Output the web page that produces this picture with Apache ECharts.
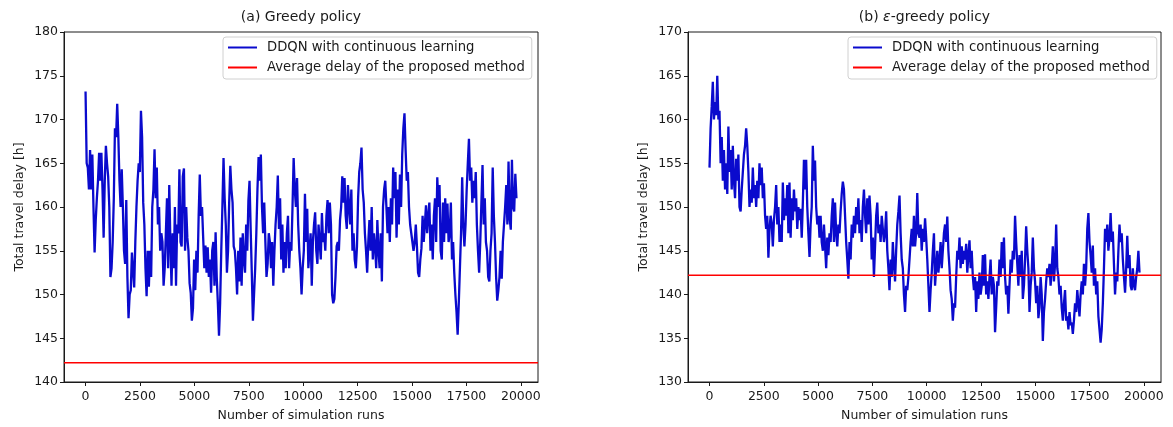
<!DOCTYPE html>
<html><head><meta charset="utf-8">
<script src="https://cdn.jsdelivr.net/npm/echarts@6/dist/echarts.min.js"></script>
<style>html,body{margin:0;padding:0;background:#fff}#c{width:1173px;height:427px}</style>
</head><body><div id="c"></div>
<script>
// ---------- data ----------
const xTickValues = [0, 2500, 5000, 7500, 10000, 12500, 15000, 17500, 20000];
const xRange = [-990, 20790];
const greedyYRange = [140, 180];
const epsYRange = [130, 170];
const yInterval = 5;
const lastRun = 19800;
const avgDelay = 142.2;
const seriesNames = ['DDQN with continuous learning', 'Average delay of the proposed method'];
const panelTitles = ['(a) Greedy policy', '(b) {e|ε}-greedy policy'];
const xAxisName = 'Number of simulation runs';
const yAxisName = 'Total travel delay [h]';

// (a) greedy policy: total travel delay sampled along the runs
const greedyDelay = [
173.2,165,164.5,162,166.5,162,166,160,154.8,158.5,161,163,166.2,163,166.2,162,156.5,163,167,165,
163.5,160,152,153,156,161,169,168,171.8,168,163,160,164.3,160,155,153.5,160.8,152,147.3,150,
150.5,154.8,155,150.8,156,160,163,165,164,171,168,160.5,158,153,149.8,155,150.9,155,152,160,
162,166.6,161,164.5,158,160,155,157,156,151,
153,157,161,153,162.5,156,151,157,153,160,151,158,157,164.3,156,155.5,163.5,164.4,155,160,
156.5,155,151.3,150.2,147,148.4,154,150.5,155,152.5,159,163.7,159,160,156.5,153,155.6,152.5,155.4,152,
154,150.2,155,156,151,157.1,152,149,145.3,149,155,160,165.6,161,158,152.5,155,160.5,164.7,162,
160.5,155.5,155,153,150,155,151.5,156.5,151,157,154,152.5,158,155,160.7,163,157.5,152.5,147,150,
153,157,162,165.7,163,166,160,157,160.5,156,152,153.5,157,156,153,156,151,155,158,160,
163.6,157.5,161,154,158,152.5,156,153,157,159,153,156,155,160,165.6,162,160,163.3,158,155,
153,150,153,155,161.5,156,159.8,153,155,157,151,156,158,159.4,155,153.5,158,156,154,159.3,
156,157,155,159,160.8,157,160.5,158,150,149,149.5,152,155.5,156,155,158.5,160,163.5,160.5,163.3,
159,157.5,162.5,160,158,162,155,157,154,153,155.5,161,164,165,166.8,162,160.5,157,155,152.5,
156,158.5,155,160,154,157,155.5,153,158.5,155,153,157,151.5,160,162,163,160,157,160,156,
161,158,164.5,161,164,156.5,162,158,163.7,160,166,169,170.7,166.5,163,164,160,158,157,157,
155,156,158,155.5,152.5,152,154,155.3,159,156,158,160.2,157,159,160.5,155,158,154,159,161,
156,163.4,160,162.5,155,154,160.5,156,161,157,160.4,156,157,160.5,154,156,152.5,150,148,145.4,
149,153,157,163.4,158,155.5,158,162,165,167.8,163,164.5,160.5,163,161,164,158,155,152.5,156,
160.5,164.8,158,161,156,155,152,151.5,155,157,164.5,159,156,152,149.3,150.5,152,155,151.8,156,
158,160,162.5,158,165.2,158.7,157.4,165.4,160,159.5,163.8,161
];

// (b) epsilon-greedy policy
const epsDelay = [
154.5,159,161.5,164.3,160,162,160.5,165,160,161,155,158,153,156.5,152,155,151.5,159.2,154,156.5,
152,157,153,151,155.5,153,156,150,149.5,152,154,156,157,159,157,154,150,152,150.5,154.5,
151,152.5,150,153,151,155,152.5,154.5,151,152.7,149,147.5,149,144.2,147.5,149,148,145.5,148.5,150,
152.5,148,150,146,148,146,152.8,148.5,151,149,152.5,147,152.8,146.5,151,148.5,152,149.5,151,147.5,
150,148.5,149.8,146.5,150.5,155.4,152,155.4,150,147,144.3,148,150,157,153,155.3,150,148,149,146.5,
149,146,145,148,145.5,143,146.5,144.5,147,146,149,151,146,150.5,147,145.5,148,147,149.5,151.5,
152.9,152,149,146,144,141.8,146,144,148,146.5,149,147,150,148,151,147,148.5,146,150,152,
149,147,151,148,151.3,149,144,146.5,142,145.5,149,150.5,147,148,146,149,147.5,146,147,149.5,
145,143,140.5,144,142,146,143.5,141.5,145,148,149.5,151.3,147,144,143,140,138,141,140.5,142,
144,146,147.5,145.5,149,145.5,147,151.6,147,146.5,148,145,147.5,146,148.7,146.5,144,141,138,140.5,
142.5,145,147,141,143,145,142.5,144,146,143,145,147,148,146,148.9,145,143,140.5,139.5,137,
139,138.5,142,145,144,146.5,143,145.5,143.5,145,144,145.8,142.5,144.5,146.2,143,145,142,140.5,142,
138,141.5,139.5,142.5,140,141,144.5,141,144.6,140,141.5,139.5,142,144,140,142,141,135.7,138.5,141.5,
141,144,142,146,143,146.5,142,140,141,137.8,141,144,142.5,145,144,149,146,143.5,141,144.5,
142,145,139.5,141,144,147.8,145,143,138,141,142.5,146.5,143,141.5,139,141,137.3,138.5,142,140,
134.7,138,139.5,141.5,143,142,143.5,141,143,145.5,141.5,143.5,148,143,142,140,141,138.5,137,139,
140.5,137,137.5,136,138,136.5,136.8,135.5,137,139,138,140.5,139,137.5,140,141.5,140,143.5,141,143,
147.5,149.3,146,144.5,142.5,145.6,141,143,140,141.5,137.5,136,134.5,136,139,143,147.5,146,148,145,
146.5,149.3,146,147.2,143.5,140,142.5,141.5,145,148,146,147,144,142,140.2,143,146.7,143,144.5,141,
140.5,143,141,140.5,142,143,145,142.5
];

// ---------- chart ----------
const FONT = 'DejaVu Sans';
const INK = '#1a1a1a';
function toPairs(vals) {
  const step = lastRun / (vals.length - 1);
  return vals.map((v, i) => [Math.round(i * step), v]);
}
const grids = [
  {left: 64, top: 32, width: 474, height: 351},
  {left: 688, top: 32, width: 473, height: 351}
];
const yRanges = [greedyYRange, epsYRange];
const values = [greedyDelay, epsDelay];

const option = {
  animation: false,
  backgroundColor: '#fff',
  textStyle: {fontFamily: FONT},
  grid: grids.map(g => Object.assign({show: true, borderColor: INK, borderWidth: 1, backgroundColor: 'transparent'}, g)),
  xAxis: grids.map((g, i) => ({
    type: 'value', gridIndex: i, min: xRange[0], max: xRange[1],
    splitLine: {show: false},
    axisLine: {show: true, onZero: false, lineStyle: {color: INK, width: 1}},
    axisTick: {show: true, customValues: xTickValues, length: 4, lineStyle: {color: INK}},
    axisLabel: {customValues: xTickValues, fontSize: 12.5, color: INK, margin: 8, fontFamily: FONT,
      formatter: v => String(v)},
    name: xAxisName, nameLocation: 'middle', nameGap: 27,
    nameTextStyle: {fontSize: 12.5, color: INK, fontFamily: FONT}
  })),
  yAxis: grids.map((g, i) => ({
    type: 'value', gridIndex: i, min: yRanges[i][0], max: yRanges[i][1], interval: yInterval,
    splitLine: {show: false},
    axisLine: {show: true, onZero: false, lineStyle: {color: INK, width: 1}},
    axisTick: {show: true, length: 4, lineStyle: {color: INK}},
    axisLabel: {fontSize: 12.5, color: INK, margin: 6, fontFamily: FONT},
    name: yAxisName, nameLocation: 'middle', nameGap: 38,
    nameTextStyle: {fontSize: 12.5, color: INK, fontFamily: FONT}
  })),
  legend: grids.map((g, i) => ({
    data: seriesNames, orient: 'vertical',
    left: i === 0 ? 223 : 848, top: 37,
    icon: 'rect', itemWidth: 29, itemHeight: 2, itemGap: 7,
    padding: [4, 7, 5, 5],
    borderColor: '#d0d0d0', borderWidth: 1, borderRadius: 3,
    backgroundColor: 'rgba(255,255,255,0.85)',
    selectedMode: false,
    textStyle: {fontSize: 13.2, color: INK, fontFamily: FONT, padding: [0, 0, 0, 5]}
  })),
  graphic: grids.map((g, i) => ({
    type: 'text', x: g.left + g.width / 2, y: 17,
    style: {
      text: panelTitles[i], textAlign: 'center', textVerticalAlign: 'middle',
      fontSize: 14, fontFamily: FONT, fill: INK,
      rich: {e: {fontStyle: 'italic', fontSize: 14, fontFamily: FONT, fill: INK}}
    }
  })),
  series: []
};
values.forEach((vals, i) => {
  option.series.push({
    type: 'line', name: seriesNames[0], xAxisIndex: i, yAxisIndex: i,
    data: toPairs(vals), showSymbol: false, symbol: 'none',
    lineStyle: {color: '#0a0acd', width: 2.3}, itemStyle: {color: '#0a0acd'}
  });
  option.series.push({
    type: 'line', name: seriesNames[1], xAxisIndex: i, yAxisIndex: i,
    data: [[xRange[0], avgDelay], [xRange[1], avgDelay]],
    showSymbol: false, symbol: 'none',
    lineStyle: {color: '#ff0000', width: 1.3}, itemStyle: {color: '#ff0000'}
  });
});
const chart = echarts.init(document.getElementById('c'), null, {renderer: 'canvas'});
chart.setOption(option);
</script>
</body></html>
